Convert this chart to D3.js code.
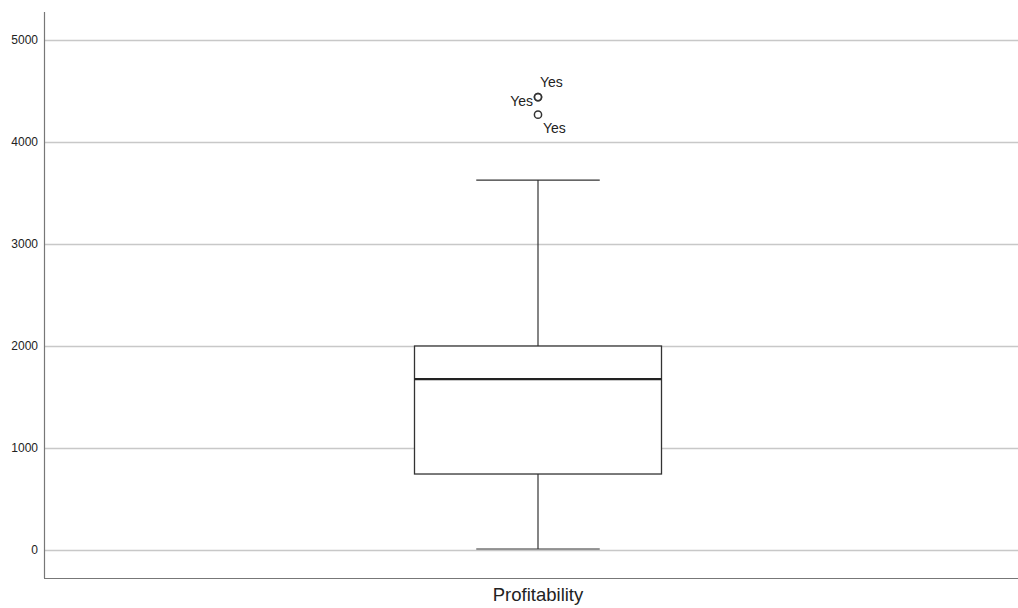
<!DOCTYPE html>
<html>
<head>
<meta charset="utf-8">
<script src="https://cdn.jsdelivr.net/npm/d3@7"></script>
<style>
  html, body { margin: 0; padding: 0; background: #fff; }
  svg { display: block; font-family: Arial, "Liberation Sans", sans-serif; }
</style>
</head>
<body>
<svg id="chart" width="1018" height="608"></svg>
<script>
// Box plot summary for Profitability
const categories = ["Profitability"];
const q1Values = [745];
const medianValues = [1676];
const q3Values = [2000];
const whiskerLow = [10];
const whiskerHigh = [3627];
const outlierValues = [4440, 4440, 4268];
const outlierLabels = ["Yes", "Yes", "Yes"];
const yTicks = [0, 1000, 2000, 3000, 4000, 5000];

const svg = d3.select("#chart");
const W = 1018, H = 608;
const margin = { left: 44, right: 0, top: 12, bottom: 30 };

const y = d3.scaleLinear().domain([0, 5000]).range([550, 40]);
const x = d3.scaleBand().domain(categories).range([margin.left, W + 14]).paddingInner(0).paddingOuter(0);

// Gridlines
svg.append("g")
  .selectAll("line")
  .data(yTicks)
  .join("line")
  .attr("x1", margin.left).attr("x2", W)
  .attr("y1", d => Math.round(y(d)) + 0.5).attr("y2", d => Math.round(y(d)) + 0.5)
  .attr("stroke", "#c8c8c8").attr("stroke-width", 1.3);

// Y axis
const yAxis = d3.axisLeft(y).tickValues(yTicks).tickSize(0).tickPadding(6).tickFormat(d3.format("d"));
const yg = svg.append("g").attr("transform", `translate(${margin.left},0)`).call(yAxis);
yg.select(".domain").remove();
yg.selectAll("text").attr("font-size", 12).attr("fill", "#222");

// Axis frame lines
svg.append("line")
  .attr("x1", margin.left + 0.5).attr("x2", margin.left + 0.5)
  .attr("y1", margin.top).attr("y2", H - margin.bottom)
  .attr("stroke", "#777").attr("stroke-width", 1.2);
svg.append("line")
  .attr("x1", margin.left).attr("x2", W)
  .attr("y1", H - margin.bottom + 0.5).attr("y2", H - margin.bottom + 0.5)
  .attr("stroke", "#777").attr("stroke-width", 1.2);

// X axis label
const xAxis = d3.axisBottom(x).tickSize(0).tickPadding(10);
const xg = svg.append("g").attr("transform", `translate(0,${H - margin.bottom})`).call(xAxis);
xg.select(".domain").remove();
xg.selectAll("text").attr("font-size", 18.5).attr("fill", "#222");

const boxW = 247;
categories.forEach((c, i) => {
  const cx = x(c) + x.bandwidth() / 2;
  const g = svg.append("g");
  const lineColor = "#333";
  // whiskers
  g.append("line").attr("x1", cx).attr("x2", cx)
    .attr("y1", y(whiskerHigh[i])).attr("y2", y(q3Values[i]))
    .attr("stroke", lineColor).attr("stroke-width", 1.2);
  g.append("line").attr("x1", cx).attr("x2", cx)
    .attr("y1", y(q1Values[i])).attr("y2", y(whiskerLow[i]))
    .attr("stroke", lineColor).attr("stroke-width", 1.2);
  // caps
  [whiskerHigh[i], whiskerLow[i]].forEach(v => {
    g.append("line").attr("x1", cx - boxW / 4).attr("x2", cx + boxW / 4)
      .attr("y1", y(v)).attr("y2", y(v))
      .attr("stroke", lineColor).attr("stroke-width", 1.2);
  });
  // box
  g.append("rect")
    .attr("x", cx - boxW / 2).attr("y", y(q3Values[i]))
    .attr("width", boxW).attr("height", y(q1Values[i]) - y(q3Values[i]))
    .attr("fill", "#fff").attr("stroke", lineColor).attr("stroke-width", 1.3);
  // median
  g.append("line").attr("x1", cx - boxW / 2).attr("x2", cx + boxW / 2)
    .attr("y1", y(medianValues[i])).attr("y2", y(medianValues[i]))
    .attr("stroke", "#222").attr("stroke-width", 2.2);

  // outliers
  const labelOffsets = [[2, -10, "start"], [-5, 9, "end"], [5, 18, "start"]];
  outlierValues.forEach((v, k) => {
    g.append("circle").attr("cx", cx).attr("cy", y(v)).attr("r", 3.6)
      .attr("fill", "none").attr("stroke", "#333").attr("stroke-width", 1.5);
  });
  outlierValues.forEach((v, k) => {
    const [dx, dy, anchor] = labelOffsets[k];
    g.append("text").attr("x", cx + dx).attr("y", y(v) + dy)
      .attr("text-anchor", anchor).attr("font-size", 14).attr("fill", "#222")
      .text(outlierLabels[k]);
  });
});
</script>
</body>
</html>
